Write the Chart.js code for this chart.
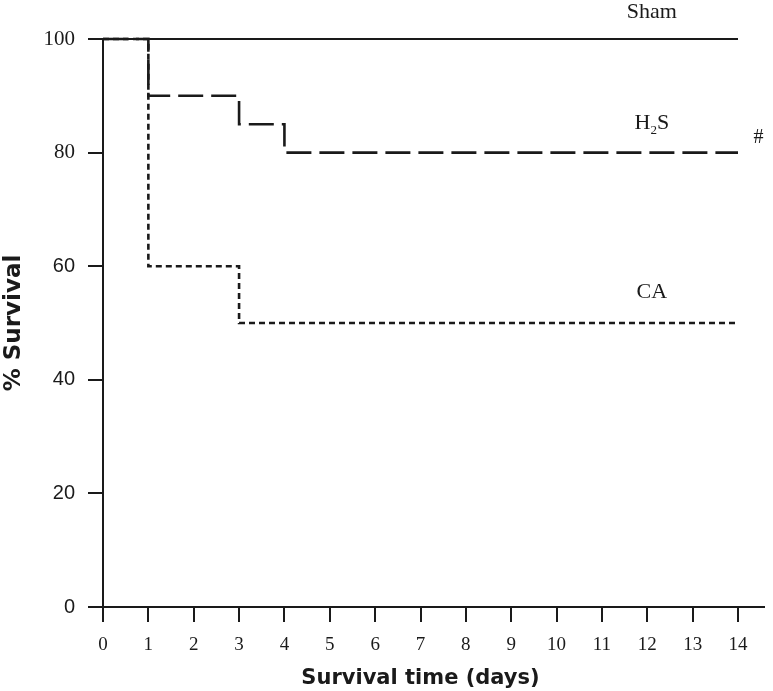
<!DOCTYPE html>
<html>
<head>
<meta charset="utf-8">
<script src="https://cdn.jsdelivr.net/npm/chart.js"></script>
<style>
  html, body { margin: 0; padding: 0; background: #fff; }
  #wrap { width: 773px; height: 691px; position: relative; }
</style>
</head>
<body>
<div id="wrap"><canvas id="survival"></canvas></div>
<script>
// ===== データ =====
const shamDays = [0, 14];
const shamSurvival = [100, 100];

const h2sDays = [0, 1, 3, 4, 14];
const h2sSurvival = [100, 90, 85, 80, 80];

const caDays = [0, 1, 3, 14];
const caSurvival = [100, 60, 50, 50];

const xTicks = [0, 1, 2, 3, 4, 5, 6, 7, 8, 9, 10, 11, 12, 13, 14];
const yTicks = [0, 20, 40, 60, 80, 100];

// 線の横に置くラベル（データ座標）
const lineLabels = [
  { text: 'Sham', x: 12.1, y: 104.8 },
  { text: 'H2S', x: 12.1, y: 85.2 },
  { text: 'CA', x: 12.1, y: 55.5 },
  { text: '#', x: 14.45, y: 82.7 }
];

function toPoints(xs, ys) {
  return xs.map((x, i) => ({ x, y: ys[i] }));
}

const INK = '#1a1a1a';
const SERIF = '"Liberation Serif", "DejaVu Serif", serif';
const SANS = '"Liberation Sans", Arial, sans-serif';
const TITLE_FONT = '"DejaVu Sans", Verdana, sans-serif';

// 軸線の延長とラベル描画
const decorations = {
  id: 'decorations',
  afterDraw(chart) {
    const { ctx, chartArea, scales } = chart;
    ctx.save();
    ctx.strokeStyle = INK;
    ctx.lineWidth = 2;
    ctx.beginPath();
    ctx.moveTo(chartArea.left - 15, chartArea.bottom);
    ctx.lineTo(chartArea.left, chartArea.bottom);
    ctx.moveTo(chartArea.right, chartArea.bottom);
    ctx.lineTo(chartArea.right + 27, chartArea.bottom);
    ctx.stroke();

    ctx.fillStyle = INK;
    ctx.textBaseline = 'middle';
    ctx.textAlign = 'center';
    for (const l of lineLabels) {
      const px = scales.x.getPixelForValue(l.x);
      const py = scales.y.getPixelForValue(l.y);
      if (l.text === 'H2S') {
        ctx.font = '22px ' + SERIF;
        const wH = ctx.measureText('H').width;
        ctx.font = '13px ' + SERIF;
        const w2 = ctx.measureText('2').width;
        ctx.font = '22px ' + SERIF;
        const wS = ctx.measureText('S').width;
        const x0 = px - (wH + w2 + wS) / 2;
        ctx.textAlign = 'left';
        ctx.fillText('H', x0, py);
        ctx.font = '13px ' + SERIF;
        ctx.fillText('2', x0 + wH, py + 8);
        ctx.font = '22px ' + SERIF;
        ctx.fillText('S', x0 + wH + w2, py);
        ctx.textAlign = 'center';
      } else if (l.text === '#') {
        ctx.font = '20px ' + SERIF;
        ctx.fillText(l.text, px, py);
      } else {
        ctx.font = '22px ' + SERIF;
        ctx.fillText(l.text, px, py);
      }
    }
    ctx.restore();
  }
};

new Chart(document.getElementById('survival'), {
  type: 'line',
  data: {
    datasets: [
      {
        label: 'Sham',
        data: toPoints(shamDays, shamSurvival),
        borderColor: INK,
        borderWidth: 2,
        pointRadius: 0,
        stepped: 'before'
      },
      {
        label: 'H2S',
        data: toPoints(h2sDays, h2sSurvival),
        borderColor: INK,
        borderWidth: 2.6,
        borderDash: [25, 8],
        pointRadius: 0,
        stepped: 'before'
      },
      {
        label: 'CA',
        data: toPoints(caDays, caSurvival),
        borderColor: INK,
        borderWidth: 2.6,
        borderDash: [6, 4],
        pointRadius: 0,
        stepped: 'before'
      }
    ]
  },
  options: {
    responsive: true,
    maintainAspectRatio: false,
    animation: false,
    clip: false,
    layout: { padding: { top: 39, right: 35, left: 0, bottom: 0 } },
    plugins: {
      legend: { display: false },
      tooltip: { enabled: false }
    },
    scales: {
      x: {
        type: 'linear',
        min: 0,
        max: 14,
        afterBuildTicks: (axis) => { axis.ticks = xTicks.map(v => ({ value: v })); },
        afterFit: (axis) => { axis.height = 84; },
        ticks: {
          color: INK,
          padding: 12,
          maxRotation: 0,
          font: { family: SERIF, size: 19 }
        },
        grid: {
          drawOnChartArea: false,
          drawTicks: true,
          tickLength: 15,
          color: INK,
          lineWidth: 2
        },
        border: { display: true, color: INK, width: 2 },
        title: {
          display: true,
          text: 'Survival time (days)',
          color: INK,
          font: { family: TITLE_FONT, size: 21, weight: 'bold' },
          padding: { top: 0, bottom: 0 }
        }
      },
      y: {
        min: 0,
        max: 100,
        afterBuildTicks: (axis) => { axis.ticks = yTicks.map(v => ({ value: v })); },
        afterFit: (axis) => { axis.width = 103; },
        ticks: {
          color: INK,
          padding: 13,
          font: (ctx) => (ctx.tick && ctx.tick.value >= 80)
            ? { family: SERIF, size: 21 }
            : { family: SANS, size: 20 }
        },
        grid: {
          drawOnChartArea: false,
          drawTicks: true,
          tickLength: 15,
          color: INK,
          lineWidth: 2
        },
        border: { display: true, color: INK, width: 2 },
        title: {
          display: true,
          text: '% Survival',
          color: INK,
          font: { family: TITLE_FONT, size: 23, weight: 'bold' },
          padding: { top: 0, bottom: 0 }
        }
      }
    }
  },
  plugins: [decorations]
});
</script>
</body>
</html>
